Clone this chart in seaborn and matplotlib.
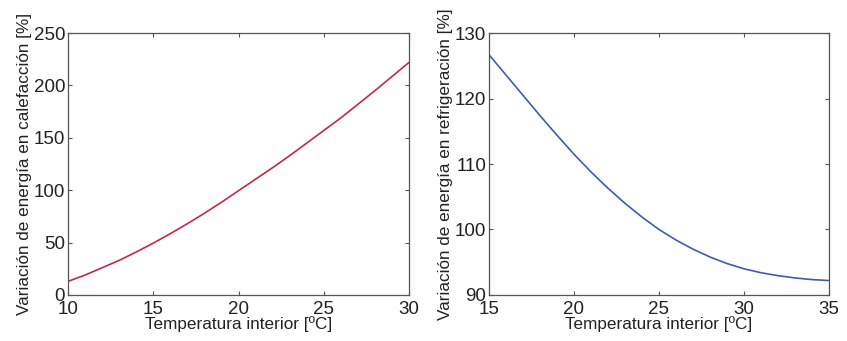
import matplotlib
matplotlib.use("Agg")
import matplotlib.pyplot as plt
import seaborn as sns
import pandas as pd

# heating curve (left panel)
temp_heat = [10, 11, 12, 13, 14, 15, 16, 17, 18, 19, 20,
             21, 22, 23, 24, 25, 26, 27, 28, 29, 30]
energy_heat = [13, 19, 26, 33, 41, 49.5, 58.5, 68, 78, 88.5, 99.5,
               110.5, 121.5, 133, 145, 157, 169, 182, 195, 208.5, 222]

# cooling curve (right panel)
temp_cool = [15, 16, 17, 18, 19, 20, 21, 22, 23, 24, 25,
             26, 27, 28, 29, 30, 31, 32, 33, 34, 35]
energy_cool = [126.7, 123.6, 120.5, 117.4, 114.4, 111.5, 108.8, 106.3, 104.0, 101.9, 100.0,
               98.4, 97.0, 95.8, 94.8, 94.0, 93.4, 92.95, 92.6, 92.35, 92.2]

df_heat = pd.DataFrame({"T": temp_heat, "E": energy_heat})
df_cool = pd.DataFrame({"T": temp_cool, "E": energy_cool})

sns.set_style("ticks")
plt.rcParams["font.family"] = ["Liberation Sans", "DejaVu Sans"]
plt.rcParams["text.color"] = "#222222"
plt.rcParams["axes.labelcolor"] = "#222222"

fig = plt.figure(figsize=(8.47, 3.41), dpi=100)
ax1 = fig.add_axes([0.0803, 0.135, 0.4026, 0.768])
ax2 = fig.add_axes([0.5773, 0.135, 0.4014, 0.768])

sns.lineplot(data=df_heat, x="T", y="E", ax=ax1, color="#bf2c44", lw=1.2)
sns.lineplot(data=df_cool, x="T", y="E", ax=ax2, color="#3f5cae", lw=1.2)

setup = [
    (ax1, (10, 30), (0, 250), [0, 50, 100, 150, 200, 250],
     "Variación de energía en calefacción [%]"),
    (ax2, (15, 35), (90, 130), [90, 100, 110, 120, 130],
     "Variación de energía en refrigeración [%]"),
]
for ax, xl, yl, yt, lab in setup:
    ax.set_xlim(*xl)
    ax.set_ylim(*yl)
    ax.set_xticks(range(xl[0], xl[1] + 1, 5))
    ax.set_yticks(yt)
    ax.set_xlabel("Temperatura interior [ºC]", fontsize=12.3, labelpad=-1)
    ax.set_ylabel(lab, fontsize=12.3, labelpad=1)
    ax.tick_params(direction="in", top=True, right=True, length=3,
                   labelsize=13.5, color="#555555", labelcolor="#222222", pad=2)
    ax.tick_params(axis="x", pad=4)
    for s in ax.spines.values():
        s.set_color("#555555")
        s.set_linewidth(0.9)

fig.savefig("out.png", dpi=100)
